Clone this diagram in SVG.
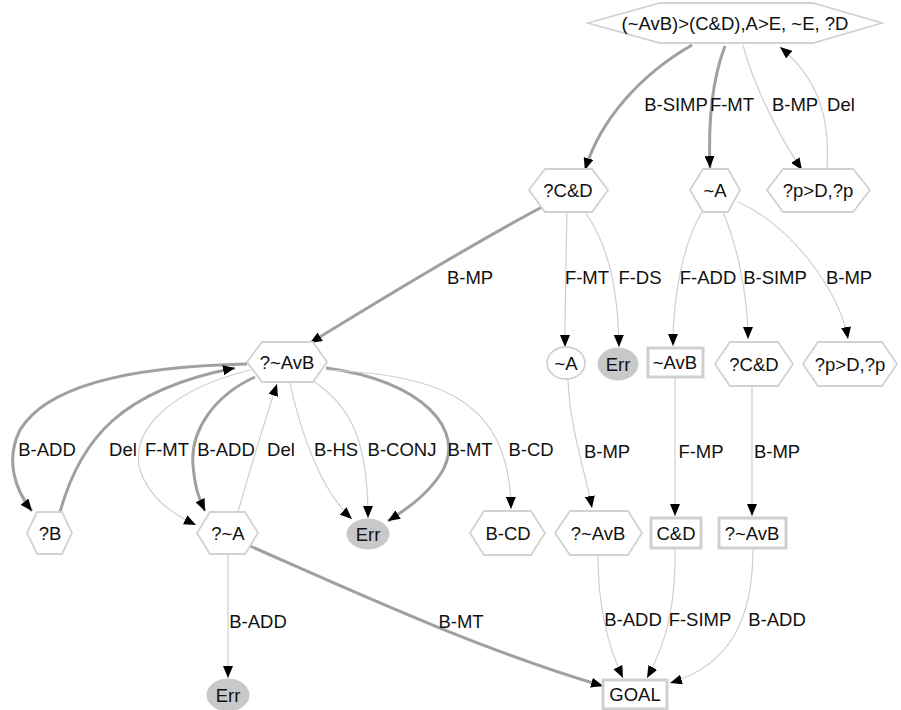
<svg xmlns="http://www.w3.org/2000/svg" width="901" height="710" viewBox="0 0 901 710">
<defs>
<style>
text{font-family:"Liberation Sans",Arial,sans-serif;font-size:18.5px;fill:#111;text-anchor:middle}
.hex{fill:#fff;stroke:#d2d2d2;stroke-width:1.8}
.box{fill:#fff;stroke:#cfcfcf;stroke-width:3}
.err{fill:#c8c8c8;stroke:#c8c8c8}
.circ{fill:#fff;stroke:#d2d2d2;stroke-width:1.8}
.e{fill:none;stroke:#cfcfcf;stroke-width:1.2;marker-end:url(#ah)}
.t{fill:none;stroke:#a0a0a0;stroke-width:3;marker-end:url(#ah)}
</style>
<marker id="ah" markerUnits="userSpaceOnUse" markerWidth="12" markerHeight="10" refX="12" refY="5" orient="auto">
<path d="M0,0 L12,5 L0,10 z" fill="#000"/>
</marker>
</defs>
<rect width="901" height="710" fill="#fff"/>
<g id="edges">
<path class="t" d="M692,45 C640,75 600,120 585,170"/>
<path class="t" d="M725,46 C712,80 708,120 710,168"/>
<path class="e" d="M743,45 C752,80 775,130 802,170"/>
<path class="e" d="M827,169 C830,120 820,80 780,47"/>
<path class="t" d="M542,207 C480,240 380,300 310,343"/>
<path class="e" d="M567,212 C566,260 565,300 565,347"/>
<path class="e" d="M585,212 C605,240 618,280 619,347"/>
<path class="e" d="M702,212 C685,240 673,290 673,346"/>
<path class="e" d="M723,212 C735,240 748,290 748,339"/>
<path class="e" d="M738,202 C790,225 840,290 848,339"/>
<path class="e" d="M568,380 C570,430 585,470 592,508"/>
<path class="e" d="M675,378 L675,516"/>
<path class="e" d="M752,386 L752,516"/>
<path class="t" d="M247,364 C150,366 50,380 20,430 C5,460 15,490 32,511"/>
<path class="t" d="M60,512 C80,440 120,390 235,368"/>
<path class="e" d="M250,370 C170,390 130,430 140,470 C150,500 175,515 196,525"/>
<path class="t" d="M255,377 C215,395 190,430 193,465 C195,490 200,500 205,511"/>
<path class="e" d="M238,512 C250,470 265,420 277,384"/>
<path class="e" d="M290,383 C300,430 320,490 352,519"/>
<path class="e" d="M313,381 C350,405 368,440 368,518"/>
<path class="t" d="M326,368 C420,380 470,430 440,475 C425,497 405,510 388,521"/>
<path class="e" d="M327,370 C440,375 510,400 511,509"/>
<path class="e" d="M228,554 L228,678"/>
<path class="t" d="M250,546 C350,590 480,650 603,686"/>
<path class="e" d="M598,556 C598,600 605,640 623,678"/>
<path class="e" d="M675,548 C676,600 668,640 647,678"/>
<path class="e" d="M753,548 C753,620 730,665 670,683"/>
</g>
<g id="edge-labels">
<text x="676" y="111">B-SIMP</text>
<text x="732" y="111">F-MT</text>
<text x="795" y="111">B-MP</text>
<text x="841" y="111">Del</text>
<text x="470" y="284">B-MP</text>
<text x="587" y="284">F-MT</text>
<text x="640" y="284">F-DS</text>
<text x="708" y="284">F-ADD</text>
<text x="775" y="284">B-SIMP</text>
<text x="849" y="284">B-MP</text>
<text x="47" y="456">B-ADD</text>
<text x="123" y="456">Del</text>
<text x="167" y="456">F-MT</text>
<text x="226" y="456">B-ADD</text>
<text x="281" y="456">Del</text>
<text x="336" y="456">B-HS</text>
<text x="402" y="456">B-CONJ</text>
<text x="470" y="456">B-MT</text>
<text x="531" y="456">B-CD</text>
<text x="607" y="458">B-MP</text>
<text x="701" y="458">F-MP</text>
<text x="777" y="458">B-MP</text>
<text x="258" y="628">B-ADD</text>
<text x="461" y="628">B-MT</text>
<text x="633" y="626">B-ADD</text>
<text x="700" y="626">F-SIMP</text>
<text x="777" y="626">B-ADD</text>
</g>
<g id="n0"><polygon class="hex" points="588,23 660,3 813,3 882,23 813,43 660,43"/><text x="735" y="30">(~AvB)&gt;(C&amp;D),A&gt;E, ~E, ?D</text></g>
<g id="n1"><polygon class="hex" points="529,190 545,169 592,169 608,190 592,212 545,212"/><text x="568" y="197">?C&amp;D</text></g>
<g id="n2"><polygon class="hex" points="690,190 703,169 728,169 740,190 728,212 703,212"/><text x="715" y="197">~A</text></g>
<g id="n3"><polygon class="hex" points="767,190 783,169 853,169 870,190 853,212 783,212"/><text x="818" y="197">?p&gt;D,?p</text></g>
<g id="n4"><polygon class="hex" points="247,362 262,342 313,342 327,362 313,382 262,382"/><text x="287" y="369">?~AvB</text></g>
<g id="n5"><ellipse class="circ" cx="566" cy="363" rx="19" ry="16"/><text x="566" y="370">~A</text></g>
<g id="n6"><ellipse class="err" cx="618" cy="364" rx="20" ry="16"/><text x="618" y="371">Err</text></g>
<g id="n7"><rect class="box" x="648" y="348" width="55" height="29"/><text x="675" y="369">~AvB</text></g>
<g id="n8"><polygon class="hex" points="715,364 730,342 778,342 793,364 778,386 730,386"/><text x="754" y="371">?C&amp;D</text></g>
<g id="n9"><polygon class="hex" points="803,364 818,342 882,342 897,364 882,386 818,386"/><text x="850" y="371">?p&gt;D,?p</text></g>
<g id="n10"><polygon class="hex" points="27,533 37,512 62,512 72,533 62,554 37,554"/><text x="50" y="540">?B</text></g>
<g id="n11"><polygon class="hex" points="197,533 210,512 245,512 258,533 245,554 210,554"/><text x="228" y="540">?~A</text></g>
<g id="n12"><ellipse class="err" cx="368" cy="534" rx="21" ry="15"/><text x="368" y="541">Err</text></g>
<g id="n13"><polygon class="hex" points="470,533 484,511 531,511 545,533 531,555 484,555"/><text x="508" y="540">B-CD</text></g>
<g id="n14"><polygon class="hex" points="555,533 570,511 628,511 642,533 628,555 570,555"/><text x="598" y="540">?~AvB</text></g>
<g id="n15"><rect class="box" x="651" y="518" width="50" height="30"/><text x="676" y="540">C&amp;D</text></g>
<g id="n16"><rect class="box" x="719" y="518" width="67" height="30"/><text x="752" y="540">?~AvB</text></g>
<g id="n17"><rect class="box" x="603" y="680" width="64" height="29"/><text x="635" y="701">GOAL</text></g>
<g id="n18"><ellipse class="err" cx="228" cy="695" rx="21" ry="16"/><text x="228" y="702">Err</text></g>
</svg>
